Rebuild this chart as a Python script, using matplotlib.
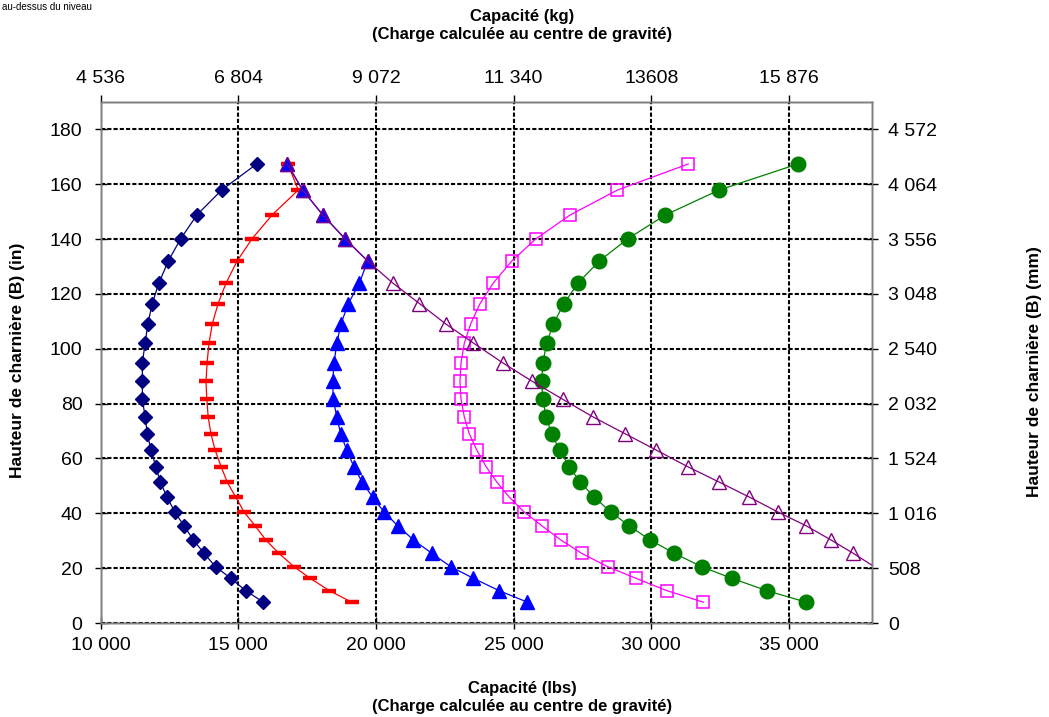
import matplotlib
matplotlib.use("Agg")
import matplotlib.pyplot as plt
from matplotlib.ticker import FixedLocator, FixedFormatter

plt.rcParams['font.family'] = ['Liberation Sans', 'DejaVu Sans']
plt.rcParams['lines.scale_dashes'] = False

# Hinge heights (in) shared by all capacity curves
heights_in = [7.6, 11.8, 16.3, 20.5, 25.4, 30.3, 35.5, 40.4, 45.9, 51.4, 57.0, 63.1, 69.0,
              75.1, 81.6, 88.1, 94.9, 102.1, 109.1, 116.5, 124.0, 132.0, 140.1, 148.8, 157.9, 167.4]

# Capacity (lbs) at each height, one list per load chart
cap_navy = [15910, 15270, 14730, 14180, 13760, 13370, 13030, 12700, 12420, 12170, 12010, 11830, 11700,
            11620, 11520, 11520, 11520, 11620, 11720, 11880, 12120, 12460, 12910, 13500, 14400, 15670]
cap_red = [19120, 18310, 17610, 17030, 16480, 16000, 15610, 15220, 14910, 14600, 14380, 14160, 14010,
           13910, 13860, 13830, 13870, 13940, 14060, 14270, 14560, 14960, 15500, 16230, 17180, 16800]
cap_blue = [25500, 24470, 23540, 22720, 22030, 21360, 20790, 20300, 19880, 19500, 19200, 18940, 18720,
            18580, 18450, 18430, 18480, 18580, 18730, 19000, 19400, 19700, 18880, 18070, 17340, 16780]
# purple curve starts at 20.5 in; its lowest point lies just past the axis limit
heights_purple = heights_in[3:]
cap_purple = [38100, 37330, 36520, 35610, 34610, 33560, 32460, 31320, 30170, 29050, 27890, 26780,
              25680, 24600, 23540, 22530, 21580, 20610, 19700, 18880, 18070, 17340, 16780]
cap_magenta = [31890, 30560, 29440, 28420, 27470, 26710, 26020, 25390, 24840, 24390, 24000, 23660, 23390,
               23210, 23090, 23050, 23090, 23210, 23440, 23780, 24260, 24930, 25810, 27050, 28770, 31340]
cap_green = [35620, 34190, 32920, 31830, 30840, 29950, 29190, 28530, 27930, 27410, 27020, 26670, 26380,
             26180, 26060, 26020, 26060, 26200, 26440, 26830, 27340, 28110, 29140, 30510, 32460, 35320]

# Axis ticks and labels
lbs_ticks = [10000, 15000, 20000, 25000, 30000, 35000]
lbs_labels = ['10 000', '15 000', '20 000', '25 000', '30 000', '35 000']
kg_labels = ['4 536', '6 804', '9 072', '11 340', '13608', '15 876']
in_ticks = [0, 20, 40, 60, 80, 100, 120, 140, 160, 180]
mm_labels = ['0', '508', '1 016', '1 524', '2 032', '2 540', '3 048', '3 556', '4 064', '4 572']

W, H = 1049, 717
fig = plt.figure(figsize=(W / 100, H / 100), dpi=100)
ax = fig.add_axes([100.5 / W, 1 - 623 / H, (871.7 - 100.5) / W, (623 - 102) / H])

ax.set_xlim(10000, 38000)
ax.set_ylim(0, 190)

grid_kw = dict(color='black', lw=1.5, dashes=(3.0, 1.5), zorder=1)
for x in lbs_ticks:
    ax.axvline(x, **grid_kw)
for y in in_ticks:
    ax.axhline(y, **grid_kw)

ax.plot(cap_navy, heights_in, color='#000080', lw=0.9, marker='D', ms=7,
        mfc='#000080', mec='#000080', zorder=3)
ax.plot(cap_red, heights_in, color='#FF0000', lw=0.9, marker='_', ms=9.5, mew=3.2,
        mec='#FF0000', zorder=3)
ax.plot(cap_blue, heights_in, color='#0000FF', lw=0.9, marker='^', ms=9.5,
        mfc='#0000FF', mec='#0000FF', zorder=3)
ax.plot(cap_purple, heights_purple, color='#800080', lw=0.9, marker='^', ms=10,
        mfc='none', mec='#800080', mew=1.0, markevery=list(range(1, len(cap_purple))), zorder=4)
ax.plot(cap_magenta, heights_in, color='#FF00FF', lw=0.9, marker='s', ms=9.2,
        mfc='none', mec='#FF00FF', mew=1.1, zorder=3)
ax.plot(cap_green, heights_in, color='#008000', lw=0.9, marker='o', ms=10.5,
        mfc='#008000', mec='#008000', zorder=3)

spine_c = '#808080'
for s in ax.spines.values():
    s.set_color(spine_c)
    s.set_linewidth(1.0)
    s.set_zorder(0.5)

ax.xaxis.set_major_locator(FixedLocator(lbs_ticks))
ax.xaxis.set_major_formatter(FixedFormatter(lbs_labels))
ax.yaxis.set_major_locator(FixedLocator(in_ticks))
ax.tick_params(axis='both', which='major', direction='inout', length=8, width=1.0,
               color='black', labelsize=14, pad=6)
ax.tick_params(axis='y', pad=9)

# kg scale on top, mm scale on the right
axt = ax.twiny()
axt.set_xlim(ax.get_xlim())
axt.xaxis.set_major_locator(FixedLocator(lbs_ticks))
axt.xaxis.set_major_formatter(FixedFormatter(kg_labels))
axt.tick_params(axis='x', direction='out', length=5, width=1.0, color='black',
                labelsize=14, pad=6)
axr = ax.twinx()
axr.set_ylim(ax.get_ylim())
axr.yaxis.set_major_locator(FixedLocator(in_ticks))
axr.yaxis.set_major_formatter(FixedFormatter(mm_labels))
axr.tick_params(axis='y', direction='inout', length=8, width=1.0, color='black',
                labelsize=14, pad=8)
for a in (axt, axr):
    for s in a.spines.values():
        s.set_color(spine_c)
        s.set_linewidth(1.0)

title_kw = dict(ha='center', va='center', fontsize=12, fontweight='bold')
subtitle = '(Charge calculée au centre de gravité)'
fig.text(522 / W, 1 - 16 / H, 'Capacité (kg)', **title_kw)
fig.text(522 / W, 1 - 34 / H, subtitle, **title_kw)
fig.text(522 / W, 1 - 688 / H, 'Capacité (lbs)', **title_kw)
fig.text(522 / W, 1 - 706 / H, subtitle, **title_kw)
fig.text(18 / W, 1 - 360 / H, 'Hauteur de charnière (B) (in)', rotation=90,
         ha='center', va='center', fontsize=12.5, fontweight='bold')
fig.text(1035 / W, 1 - 372 / H, 'Hauteur de charnière (B) (mm)', rotation=90,
         ha='center', va='center', fontsize=12.5, fontweight='bold')
# small caption line in the top-left corner
fig.text(2 / W, 1 - 2 / H, 'au-dessus du niveau', ha='left', va='top', fontsize=7)

fig.savefig('out.png', dpi=100)
